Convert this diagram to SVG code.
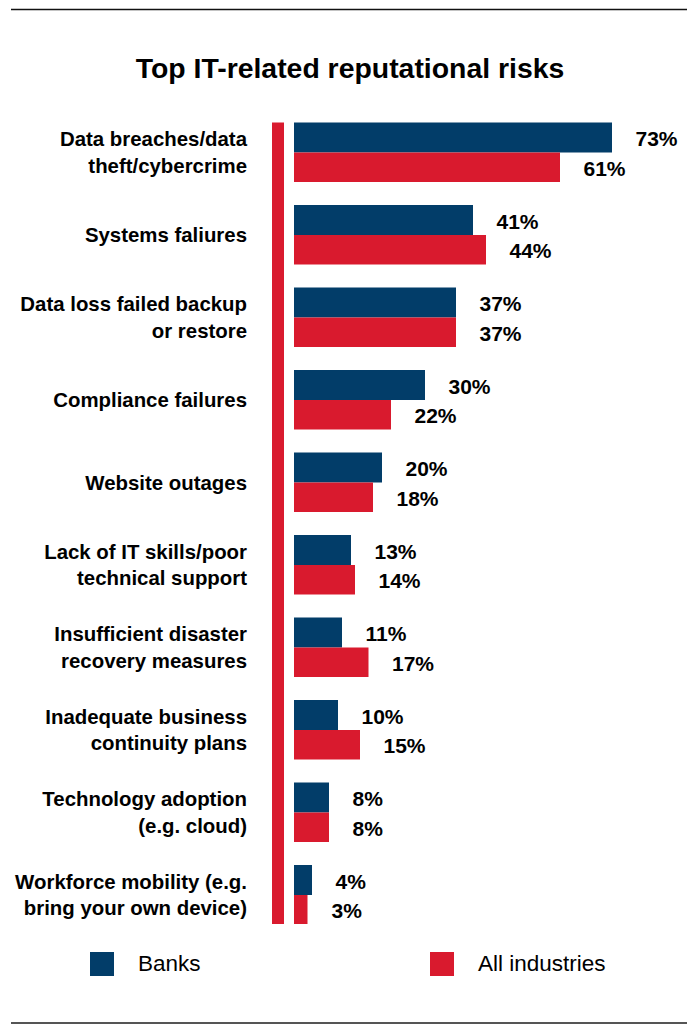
<svg xmlns="http://www.w3.org/2000/svg" width="687" height="1025" viewBox="0 0 687 1025">
<style>
.t{font-family:"Liberation Sans",Arial,sans-serif;font-weight:bold;font-size:28.4px;fill:#000}
.lb{font-family:"Liberation Sans",Arial,sans-serif;font-weight:bold;font-size:20.4px;fill:#000;text-anchor:end}
.v{font-family:"Liberation Sans",Arial,sans-serif;font-weight:bold;font-size:21px;fill:#000}
.lg{font-family:"Liberation Sans",Arial,sans-serif;font-size:22.5px;fill:#000}
.b{fill:#023d69}
.r{fill:#d91a2e}
</style>
<rect width="687" height="1025" fill="#fff"/>
<line x1="11" y1="9.5" x2="687" y2="9.5" stroke="#111" stroke-width="1.5"/>
<line x1="11" y1="1023" x2="687" y2="1023" stroke="#555" stroke-width="2"/>
<text class="t" x="350" y="78.3" text-anchor="middle">Top IT-related reputational risks</text>
<rect id="axis" class="r" x="272" y="122.5" width="12" height="801.5"/>
<g id="g1">
<text class="lb" x="247" y="146">Data breaches/data</text><text class="lb" x="247" y="172.5">theft/cybercrime</text>
<rect class="b" x="294" y="122.5" width="318" height="30"/><rect class="r" x="294" y="152.5" width="266" height="29.5"/>
<text class="v" x="635.5" y="146">73%</text><text class="v" x="583.5" y="175.5">61%</text>
</g>
<g id="g2">
<text class="lb" x="247" y="242">Systems faliures</text>
<rect class="b" x="294" y="205" width="179" height="30"/><rect class="r" x="294" y="235" width="192" height="29.5"/>
<text class="v" x="496.5" y="228.5">41%</text><text class="v" x="509.5" y="258">44%</text>
</g>
<g id="g3">
<text class="lb" x="247" y="311">Data loss failed backup</text><text class="lb" x="247" y="337.5">or restore</text>
<rect class="b" x="294" y="287.5" width="162" height="30"/><rect class="r" x="294" y="317.5" width="162" height="29.5"/>
<text class="v" x="479.5" y="311">37%</text><text class="v" x="479.5" y="340.5">37%</text>
</g>
<g id="g4">
<text class="lb" x="247" y="407">Compliance failures</text>
<rect class="b" x="294" y="370" width="131" height="30"/><rect class="r" x="294" y="400" width="97" height="29.5"/>
<text class="v" x="448.5" y="393.5">30%</text><text class="v" x="414.5" y="423">22%</text>
</g>
<g id="g5">
<text class="lb" x="247" y="489.5">Website outages</text>
<rect class="b" x="294" y="452.5" width="88" height="30"/><rect class="r" x="294" y="482.5" width="79" height="29.5"/>
<text class="v" x="405.5" y="476">20%</text><text class="v" x="396.5" y="505.5">18%</text>
</g>
<g id="g6">
<text class="lb" x="247" y="558.5">Lack of IT skills/poor</text><text class="lb" x="247" y="585">technical support</text>
<rect class="b" x="294" y="535" width="57" height="30"/><rect class="r" x="294" y="565" width="61" height="29.5"/>
<text class="v" x="374.5" y="558.5">13%</text><text class="v" x="378.5" y="588">14%</text>
</g>
<g id="g7">
<text class="lb" x="247" y="641">Insufficient disaster</text><text class="lb" x="247" y="667.5">recovery measures</text>
<rect class="b" x="294" y="617.5" width="48" height="30"/><rect class="r" x="294" y="647.5" width="74.5" height="29.5"/>
<text class="v" x="365.5" y="641">11%</text><text class="v" x="392" y="670.5">17%</text>
</g>
<g id="g8">
<text class="lb" x="247" y="723.5">Inadequate business</text><text class="lb" x="247" y="750">continuity plans</text>
<rect class="b" x="294" y="700" width="44" height="30"/><rect class="r" x="294" y="730" width="66" height="29.5"/>
<text class="v" x="361.5" y="723.5">10%</text><text class="v" x="383.5" y="753">15%</text>
</g>
<g id="g9">
<text class="lb" x="247" y="806">Technology adoption</text><text class="lb" x="247" y="832.5">(e.g. cloud)</text>
<rect class="b" x="294" y="782.5" width="35" height="30"/><rect class="r" x="294" y="812.5" width="35" height="29.5"/>
<text class="v" x="352.5" y="806">8%</text><text class="v" x="352.5" y="835.5">8%</text>
</g>
<g id="g10">
<text class="lb" x="247" y="888.5">Workforce mobility (e.g.</text><text class="lb" x="247" y="915">bring your own device)</text>
<rect class="b" x="294" y="865" width="18" height="30"/><rect class="r" x="294" y="895" width="13.5" height="29"/>
<text class="v" x="335.5" y="888.5">4%</text><text class="v" x="331.5" y="918">3%</text>
</g>
<g id="legend">
<rect class="b" x="90" y="952" width="24" height="24"/>
<text class="lg" x="138" y="971">Banks</text>
<rect class="r" x="430" y="952" width="24" height="24"/>
<text class="lg" x="478" y="971">All industries</text>
</g>
</svg>
